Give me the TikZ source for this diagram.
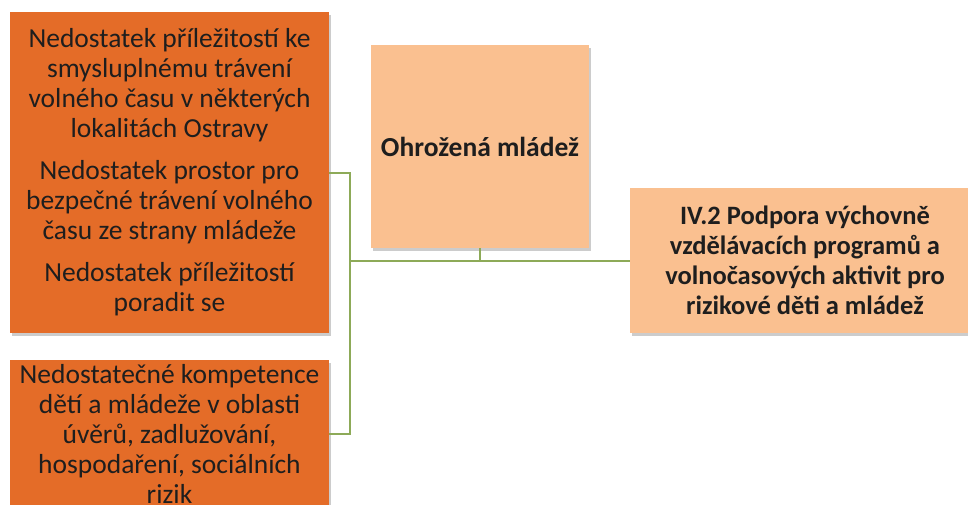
\documentclass[tikz,border=0pt]{standalone}
\usepackage{fontspec}
\setmainfont{Carlito}
\usetikzlibrary{positioning,shadows}
\definecolor{boxdark}{HTML}{E46C28}
\definecolor{boxlight}{HTML}{FAC090}
\definecolor{linkgreen}{HTML}{8DAA58}
\definecolor{textdark}{HTML}{1E1E1E}
\begin{document}
\begin{tikzpicture}[x=1pt,y=-1pt,
    cause/.style={rectangle,fill=boxdark,text=textdark,align=center,inner sep=0pt,
      font=\fontsize{27.5}{30}\selectfont,
      drop shadow={shadow xshift=1.5pt,shadow yshift=-2.5pt,fill=black,opacity=0.2}},
    target/.style={cause,fill=boxlight,font=\bfseries\fontsize{27.5}{30}\selectfont},
    link/.style={draw=linkgreen,line width=2pt}]
  \useasboundingbox (0,0) rectangle (968,504);
  \clip (0,0) rectangle (968,504);
  \node[cause,minimum width=319pt,minimum height=321pt] (A) at (169.5,172.5)
    {Nedostatek příležitostí ke\\smysluplnému trávení\\volného času v některých\\lokalitách Ostravy\\[12pt]
     Nedostatek prostor pro\\bezpečné trávení volného\\času ze strany mládeže\\[12pt]
     Nedostatek příležitostí\\poradit se};
  \node[cause,minimum width=319pt,minimum height=148pt] (B) at (169.5,434)
    {Nedostatečné kompetence\\dětí a mládeže v oblasti\\úvěrů, zadlužování,\\hospodaření, sociálních\\rizik};
  \node[target,minimum width=218pt,minimum height=203pt] (C) at (480,146.5) {Ohrožená mládež};
  \node[target,font=\bfseries\fontsize{26.5}{30}\selectfont,minimum width=350pt,minimum height=145pt] (D) at (805,260.5)
    {IV.2 Podpora výchovně\\vzdělávacích programů a\\volnočasových aktivit pro\\rizikové děti a mládež};
  \coordinate (hub) at (350,260.5);
  \draw[link] (A.east) -| (hub) |- (B.east);
  \draw[link] (hub) -- (D.west);
  \draw[link] (C.south) -- (C.south |- hub);
\end{tikzpicture}
\end{document}
